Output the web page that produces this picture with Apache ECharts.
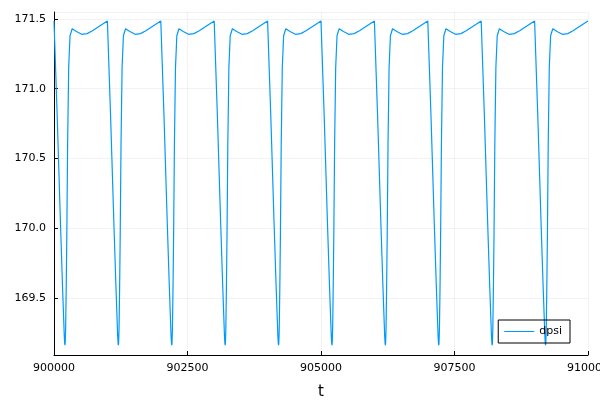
<!DOCTYPE html>
<html><head><meta charset="utf-8">
<script src="https://cdn.jsdelivr.net/npm/echarts@6/dist/echarts.min.js"></script>
<style>html,body{margin:0;padding:0;background:#fff}#c{width:600px;height:400px}</style>
</head><body><div id="c"></div>
<script>
const cycleStarts = [900000,901000,902000,903000,904000,905000,906000,907000,908000,909000];
const cycleOffsets = [0,60,120,160,180,192,200,205,210,218,228,240,255,275,300,340,420,520,620,720,820,920];
const cycleValues = [171.485,170.8,170.05,169.58,169.36,169.23,169.175,169.16,169.175,169.28,169.55,169.95,170.6,171.15,171.38,171.43,171.41,171.39,171.395,171.415,171.44,171.465];
const endPoint = [910000,171.485];
const xTicks = [900000,902500,905000,907500,910000];

const data = [];
cycleStarts.forEach(s => cycleOffsets.forEach((o,i) => data.push([s+o, cycleValues[i]])));
data.push(endPoint);

const chart = echarts.init(document.getElementById('c'));
const gridLine = {show:true,lineStyle:{color:'#000',opacity:0.1,width:0.5}};
chart.setOption({
  animation:false,
  grid:{left:54,right:12,top:12,bottom:45,containLabel:false,outerBoundsMode:'none'},
  xAxis:{type:'value',min:900000,max:910000,interval:2500,name:'t',nameLocation:'middle',nameGap:30,
    nameTextStyle:{fontSize:15,color:'#000',fontFamily:'DejaVu Sans'},
    axisLine:{show:true,onZero:false,lineStyle:{color:'#000'}},
    axisTick:{show:true,inside:true,length:4,lineStyle:{color:'#000'}},
    axisLabel:{color:'#000',fontSize:11,fontFamily:'DejaVu Sans',margin:8,hideOverlap:false,formatter:v=>String(v)},
    splitLine:gridLine},
  yAxis:{type:'value',min:169.09,max:171.55,
    axisLine:{show:true,onZero:false,lineStyle:{color:'#000'}},
    axisTick:{show:true,inside:true,length:4,lineStyle:{color:'#000'}},
    axisLabel:{color:'#000',fontSize:11,fontFamily:'DejaVu Sans',showMinLabel:false,showMaxLabel:false,formatter:v=>v.toFixed(1)},
    splitLine:gridLine},
  legend:{right:30,bottom:57,orient:'vertical',data:['dpsi'],borderColor:'#000',borderWidth:1,borderRadius:0,
    padding:[6,8,6,6],itemWidth:30,itemHeight:1,icon:'rect',itemGap:6,
    textStyle:{fontSize:11,color:'#000',fontFamily:'DejaVu Sans'}},
  series:[{name:'dpsi',type:'line',data:data,showSymbol:false,symbol:'none',
    lineStyle:{color:'#009AFA',width:1.2},itemStyle:{color:'#009AFA'}}]
});
</script></body></html>
